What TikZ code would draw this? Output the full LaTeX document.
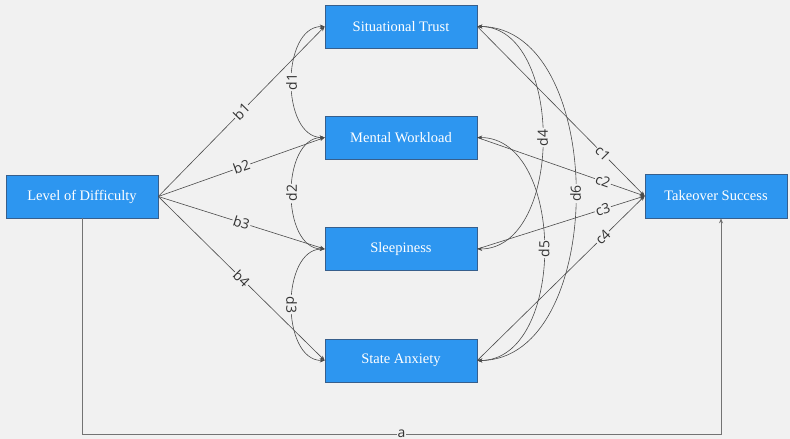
\documentclass[tikz,border=0pt]{standalone}
\usepackage{fontspec}
\setmainfont{Liberation Serif}
\setsansfont{Open Sans}
\usetikzlibrary{arrows.meta,calc}
\definecolor{bg}{RGB}{241,241,241}
\definecolor{boxfill}{RGB}{45,150,240}
\definecolor{boxdraw}{RGB}{55,95,140}
\definecolor{edgec}{RGB}{75,75,75}
\begin{document}
\begin{tikzpicture}[x=1pt,y=-1pt,
  box/.style={draw=boxdraw, line width=0.6pt, fill=boxfill, text=white,
    font=\fontsize{14.5}{16}\selectfont, minimum width=152pt, minimum height=43pt, inner sep=0pt},
  conn/.style={draw=edgec, line width=0.6pt},
  arr/.style={conn,-{Stealth[length=5pt,width=4pt]}},
  darr/.style={conn,{Stealth[length=5pt,width=4pt]}-{Stealth[length=5pt,width=4pt]}},
  lab/.style={font=\sffamily\fontsize{14}{15}\selectfont, fill=bg, inner sep=1pt, text=black!80}]
\fill[bg] (0,0) rectangle (790,439);
\useasboundingbox (0,0) rectangle (790,439);

\node[box] (lod) at (82,196.5) {Level of Difficulty};
\node[box] (st) at (401,26.5) {Situational Trust};
\node[box] (mw) at (401,137.5) {Mental Workload};
\node[box] (sl) at (401,249) {Sleepiness};
\node[box] (sa) at (401,360.5) {State Anxiety};
\node[box, minimum width=142pt, minimum height=44pt] (ts) at (716,196) {Takeover Success};

% b paths
\draw[arr] (lod.east) -- node[lab,sloped]{b1} (st.west);
\draw[arr] (lod.east) -- node[lab,sloped]{b2} (mw.west);
\draw[arr] (lod.east) -- node[lab,sloped]{b3} (sl.west);
\draw[arr] (lod.east) -- node[lab,sloped]{b4} (sa.west);

% d covariances (left)
\draw[darr] (mw.west) .. controls +(-44,0) and +(-44,0) .. node[lab,rotate=90]{d1} (st.west);
\draw[darr] (sl.west) .. controls +(-44,0) and +(-44,0) .. node[lab,rotate=90]{d2} (mw.west);
\draw[darr] (sl.west) .. controls +(-44,0) and +(-44,0) .. node[lab,rotate=-90]{d3} (sa.west);

% d covariances (right)
\draw[darr] (st.east) .. controls +(87,0) and +(87,0) .. node[lab,rotate=90]{d4} (sl.east);
\draw[darr] (mw.east) .. controls +(89,0) and +(89,0) .. node[lab,rotate=90]{d5} (sa.east);
\draw[darr] (st.east) .. controls +(131,0) and +(131,0) .. node[lab,rotate=90]{d6} (sa.east);

% c paths
\draw[arr] (st.east) -- node[lab,sloped,pos=0.75]{c1} (ts.west);
\draw[arr] (mw.east) -- node[lab,sloped,pos=0.75]{c2} (ts.west);
\draw[arr] (sl.east) -- node[lab,sloped,pos=0.75]{c3} (ts.west);
\draw[arr] (sa.east) -- node[lab,sloped,pos=0.75]{c4} (ts.west);

% a path
\coordinate (tsIn) at ([xshift=5pt]ts.south);
\coordinate (aL) at (lod.south |- 0,434);
\coordinate (aR) at (tsIn |- 0,434);
\draw[arr, draw=black!55] (lod.south) -- (aL) -- node[lab]{a} (aR) -- (tsIn);
\end{tikzpicture}
\end{document}
